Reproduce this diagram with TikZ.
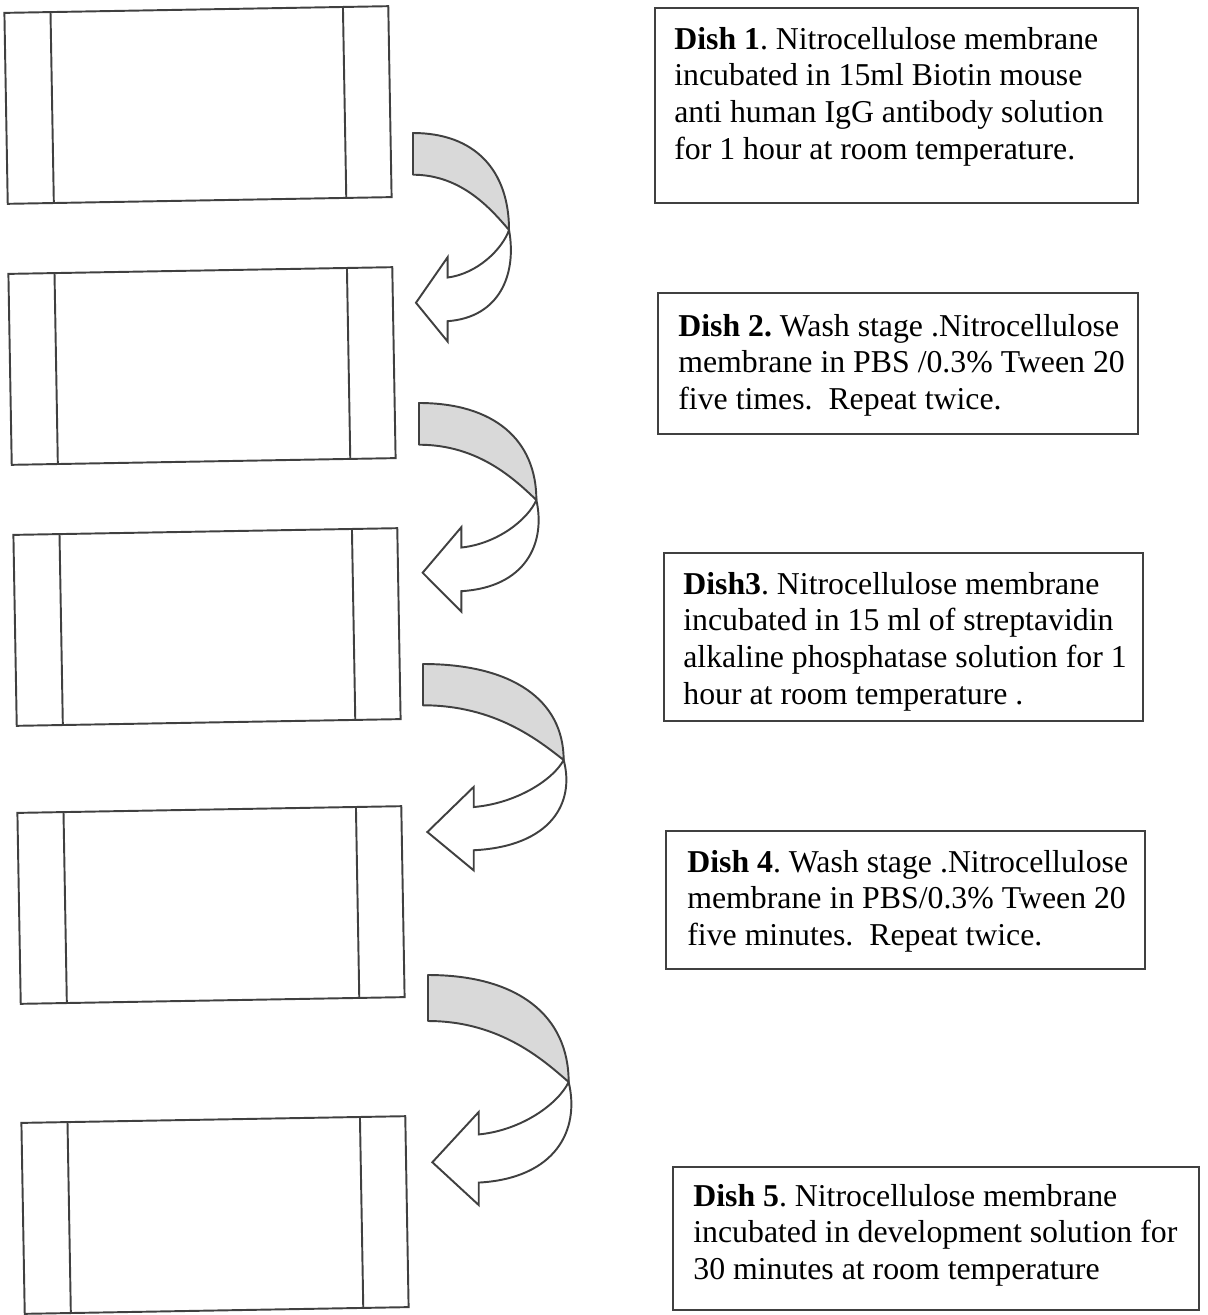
\documentclass[tikz,border=0pt]{standalone}
\usepackage{fontspec}
\setmainfont{Liberation Serif}
\usetikzlibrary{positioning,calc}
\frenchspacing

% one unit = one pixel of the page, y running downwards
\tikzset{
  dish/.style={draw=black!75, line width=1.1pt, rectangle, inner sep=0pt,
    minimum width=7.68cm, minimum height=3.82cm, rotate=1},
  dishline/.style={draw=black!75, line width=1.1pt},
  notebox/.style={draw=black!75, line width=1.1pt, rectangle, inner sep=0pt, anchor=north west},
  note/.style={inner sep=0pt, align=left, font=\fontsize{18.1}{20.8}\selectfont},
  turnarrow/.pic={
    % grey back of the band
    \filldraw[draw=black!75, fill=black!15, line width=1.1pt, line join=round]
      (0,0) .. controls (0.62,0) and (0.97,0.38) .. (0.97,1)
      .. controls (0.8,0.8) and (0.5,0.43) .. (0,0.43) -- cycle;
    % white front with the head
    \filldraw[draw=black!75, fill=white, line width=1.1pt]
      (0.97,1) .. controls (0.9,1.2) and (0.65,1.45) .. (0.35,1.49)
      -- (0.35,1.28) -- (0.03,1.75) -- (0.35,2.15) -- (0.35,1.94)
      .. controls (0.88,1.9) and (1.05,1.45) .. (0.97,1) -- cycle;
  }
}

\begin{document}
\begin{tikzpicture}[x=0.02cm,y=-0.02cm]
\useasboundingbox (0,0) rectangle (1207,1315);

% dishes
\node[dish] (d1) at (198,105) {};
\node[dish] (d2) at (202,366) {};
\node[dish] (d3) at (207,627) {};
\node[dish] (d4) at (211,905) {};
\node[dish] (d5) at (215,1215) {};
\foreach \d in {d1,d2,d3,d4,d5} {
  \draw[dishline] ($(\d.north west)!0.122!(\d.north east)$) -- ($(\d.south west)!0.122!(\d.south east)$);
  \draw[dishline] ($(\d.north west)!0.88!(\d.north east)$) -- ($(\d.south west)!0.88!(\d.south east)$);
}

% turning arrows between dishes
\pic[shift={(413,133)}, xscale=99, yscale=97] (a1) {turnarrow};
\pic[shift={(419,403)}, xscale=121, yscale=97] (a2) {turnarrow};
\pic[shift={(423,664)}, xscale=145, yscale=96] (a3) {turnarrow};
\pic[shift={(428,975)}, xscale=145, yscale=107] (a4) {turnarrow};

% notes
\node[notebox, minimum width=9.66cm, minimum height=3.9cm] (b1) at (654,7) {};
\node[note, below right=0.4cm and 0.4cm of b1.north west] (t1)
  {\textbf{Dish 1}. Nitrocellulose membrane\\
   incubated in 15ml Biotin mouse\\
   anti human IgG antibody solution\\
   for 1 hour at room temperature.};

\node[notebox, minimum width=9.6cm, minimum height=2.82cm] (b2) at (657,292) {};
\node[note, below right=0.44cm and 0.42cm of b2.north west] (t2)
  {\textbf{Dish 2.} Wash stage .Nitrocellulose\\
   membrane in PBS /0.3\% Tween 20\\
   five times.\ \ Repeat twice.};

\node[notebox, minimum width=9.58cm, minimum height=3.36cm] (b3) at (663,552) {};
\node[note, below right=0.4cm and 0.4cm of b3.north west] (t3)
  {\textbf{Dish3}. Nitrocellulose membrane\\
   incubated in 15 ml of streptavidin\\
   alkaline phosphatase solution for 1\\
   hour at room temperature .};

\node[notebox, minimum width=9.58cm, minimum height=2.76cm] (b4) at (665,830) {};
\node[note, below right=0.4cm and 0.44cm of b4.north west] (t4)
  {\textbf{Dish 4}. Wash stage .Nitrocellulose\\
   membrane in PBS/0.3\% Tween 20\\
   five minutes.\ \ Repeat twice.};

\node[notebox, minimum width=10.52cm, minimum height=2.86cm] (b5) at (672,1166) {};
\node[note, below right=0.36cm and 0.42cm of b5.north west] (t5)
  {\textbf{Dish 5}. Nitrocellulose membrane\\
   incubated in development solution for\\
   30 minutes at room temperature};
\end{tikzpicture}
\end{document}
